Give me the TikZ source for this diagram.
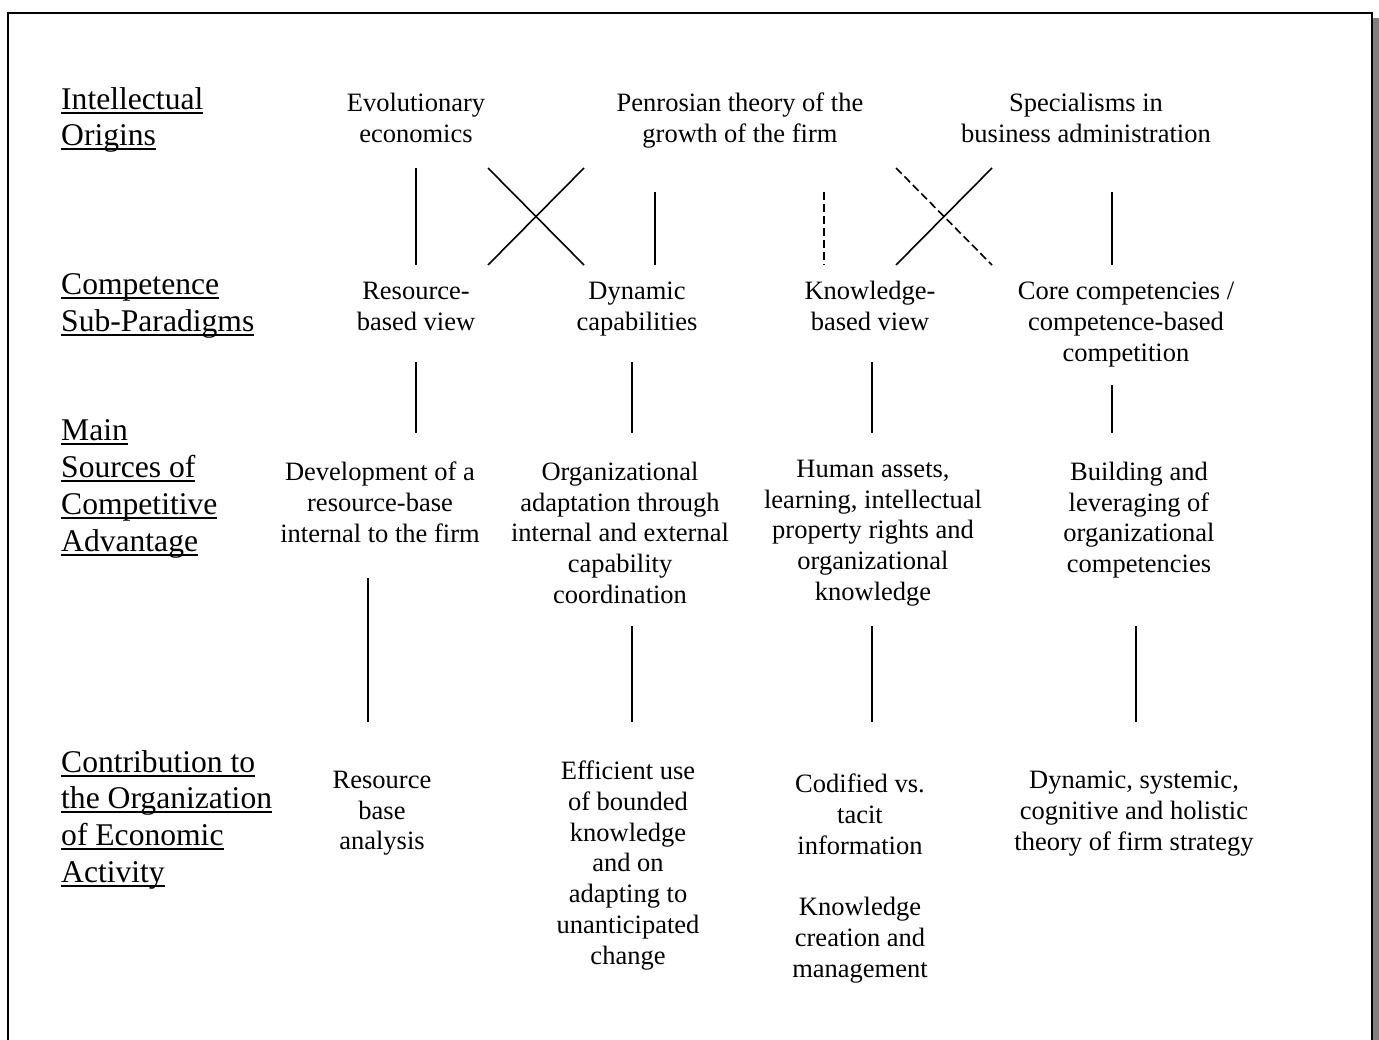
\documentclass[tikz,border=0pt]{standalone}
\usepackage{fontspec}
\setmainfont{Liberation Serif}

% underlined word at a fixed depth below the baseline
\newsavebox\ulbox
\newcommand{\ulx}[1]{\sbox\ulbox{#1}\rlap{\rule[-4.5pt]{\wd\ulbox}{2pt}}\usebox\ulbox}
\newcommand{\bodyfont}{\fontsize{26.5}{30.7}\selectfont}
\newcommand{\labfont}{\fontsize{31.6}{36.8}\selectfont}

\tikzset{
  txt/.style={anchor=north, inner sep=0pt, align=center, font=\bodyfont,
              execute at begin node={\rule{0pt}{20pt}}},
  lab/.style={anchor=north west, inner sep=0pt, align=left, font=\labfont,
              execute at begin node={\rule{0pt}{24pt}}},
  link/.style={line width=1.6pt},
  dlink/.style={line width=1.6pt, dash pattern=on 8pt off 4pt}
}

\begin{document}
\begin{tikzpicture}[x=1pt, y=-1pt]
\useasboundingbox (0,0) rectangle (1379,1039);

% frame with drop shadow on the right
\fill[gray] (1372.5,18) rectangle (1378.6,1070);
\draw[line width=2pt, line join=miter] (7.7,1070) -- (7.7,13) -- (1371.5,13) -- (1371.5,1070);

% row headings
\node[lab] (l1) at (61,87)    {\ulx{Intellectual}\\\ulx{Origins}};
\node[lab] (l2) at (61,273.5) {\ulx{Competence}\\\ulx{Sub-Paradigms}};
\node[lab] (l3) at (61,419.5) {\ulx{Main}\\\ulx{Sources of}\\\ulx{Competitive}\\\ulx{Advantage}};
\node[lab] (l4) at (61,750)   {\ulx{Contribution to}\\\ulx{the Organization}\\\ulx{of Economic}\\\ulx{Activity}};

% intellectual origins
\node[txt] (o1) at (416,93)  {Evolutionary\\economics};
\node[txt] (o2) at (740,93)  {Penrosian theory of the\\growth of the firm};
\node[txt] (o3) at (1086,93) {Specialisms in\\business administration};

% sub-paradigms
\node[txt] (p1) at (416,282)  {Resource-\\based view};
\node[txt] (p2) at (637,282)  {Dynamic\\capabilities};
\node[txt] (p3) at (870,281)  {Knowledge-\\based view};
\node[txt] (p4) at (1126,282) {Core competencies /\\competence-based\\competition};

% sources of competitive advantage
\node[txt] (s1) at (380,462)  {Development of a\\resource-base\\internal to the firm};
\node[txt] (s2) at (620,462)  {Organizational\\adaptation through\\internal and external\\capability\\coordination};
\node[txt] (s3) at (873,460)  {Human assets,\\learning, intellectual\\property rights and\\organizational\\knowledge};
\node[txt] (s4) at (1139,462) {Building and\\leveraging of\\organizational\\competencies};

% contributions
\node[txt] (c1) at (382,771)  {Resource\\base\\analysis};
\node[txt] (c2) at (628,761)  {Efficient use\\of bounded\\knowledge\\and on\\adapting to\\unanticipated\\change};
\node[txt] (c3) at (860,774)  {Codified vs.\\tacit\\information\\[30.7pt]Knowledge\\creation and\\management};
\node[txt] (c4) at (1134,771) {Dynamic, systemic,\\cognitive and holistic\\theory of firm strategy};

% connector end points, origins -> sub-paradigms
\coordinate (a1t) at (416,168);  \coordinate (a1b) at (416,265);
\coordinate (x1a) at (488,168);  \coordinate (x1b) at (584,265);
\coordinate (x1c) at (584,168);  \coordinate (x1d) at (488,265);
\coordinate (a2t) at (655,192);  \coordinate (a2b) at (655,265);
\coordinate (a3t) at (824,192);  \coordinate (a3b) at (824,265);
\coordinate (x2a) at (896,168);  \coordinate (x2b) at (992,265);
\coordinate (x2c) at (992,168);  \coordinate (x2d) at (896,265);
\coordinate (a4t) at (1112,192); \coordinate (a4b) at (1112,265);

\draw[link]  (a1t) -- (a1b);
\draw[link]  (x1a) -- (x1b);
\draw[link]  (x1c) -- (x1d);
\draw[link]  (a2t) -- (a2b);
\draw[dlink] (a3t) -- (a3b);
\draw[dlink] (x2a) -- (x2b);
\draw[link]  (x2c) -- (x2d);
\draw[link]  (a4t) -- (a4b);

% sub-paradigms -> sources
\coordinate (b1t) at (416,362);  \coordinate (b1b) at (416,433);
\coordinate (b2t) at (632,362);  \coordinate (b2b) at (632,433);
\coordinate (b3t) at (872,362);  \coordinate (b3b) at (872,433);
\coordinate (b4t) at (1112,385); \coordinate (b4b) at (1112,433);
\draw[link] (b1t) -- (b1b);
\draw[link] (b2t) -- (b2b);
\draw[link] (b3t) -- (b3b);
\draw[link] (b4t) -- (b4b);

% sources -> contributions
\coordinate (d1t) at (368,578);  \coordinate (d1b) at (368,722);
\coordinate (d2t) at (632,626);  \coordinate (d2b) at (632,722);
\coordinate (d3t) at (872,626);  \coordinate (d3b) at (872,722);
\coordinate (d4t) at (1136,626); \coordinate (d4b) at (1136,722);
\draw[link] (d1t) -- (d1b);
\draw[link] (d2t) -- (d2b);
\draw[link] (d3t) -- (d3b);
\draw[link] (d4t) -- (d4b);
\end{tikzpicture}
\end{document}
